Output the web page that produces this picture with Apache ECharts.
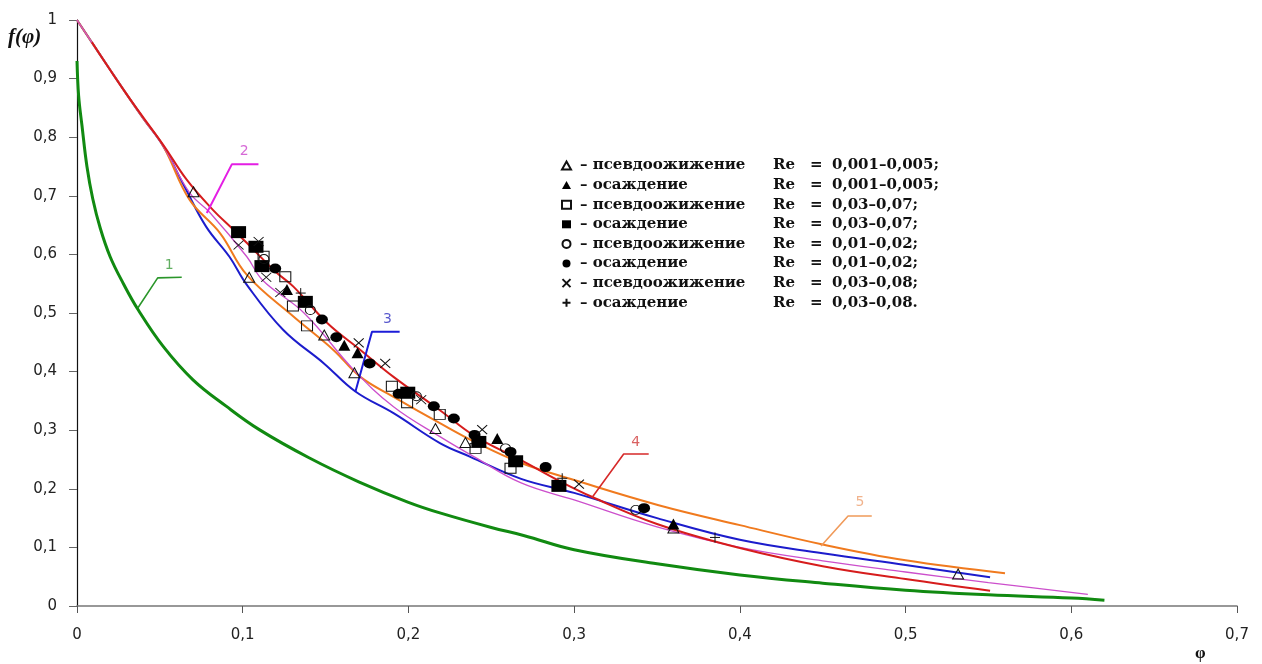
<!DOCTYPE html>
<html>
<head>
<meta charset="utf-8">
<script src="https://cdn.jsdelivr.net/npm/echarts@6/dist/echarts.min.js"></script>
<style>
html,body{margin:0;padding:0;background:#fff;}
#chart{width:1262px;height:664px;}
</style>
</head>
<body>
<div id="chart"></div>
<script>
// ---------- curves (φ, f(φ)) ----------
const phi1 = [0, 0.001, 0.003, 0.006, 0.0095, 0.014, 0.02, 0.028, 0.037, 0.052, 0.07, 0.09, 0.11, 0.14, 0.17, 0.2, 0.22, 0.25, 0.27, 0.3, 0.35, 0.4, 0.45, 0.5, 0.55, 0.6, 0.62];
const f1   = [0.93, 0.87, 0.82, 0.75, 0.695, 0.645, 0.596, 0.55, 0.505, 0.443, 0.386, 0.341, 0.301, 0.253, 0.212, 0.177, 0.158, 0.134, 0.12, 0.096, 0.072, 0.053, 0.039, 0.027, 0.019, 0.0137, 0.01];

const phi2 = [0, 0.02, 0.04, 0.052, 0.068, 0.08, 0.1025, 0.112, 0.137, 0.167, 0.191, 0.219, 0.24, 0.268, 0.3, 0.35, 0.4, 0.45, 0.5, 0.55, 0.61];
const f2   = [1.0, 0.915, 0.832, 0.785, 0.705, 0.672, 0.596, 0.556, 0.5, 0.403, 0.34, 0.289, 0.254, 0.21, 0.181, 0.135, 0.1, 0.077, 0.058, 0.04, 0.02];

const phi3 = [0, 0.02, 0.04, 0.052, 0.065, 0.078, 0.092, 0.1025, 0.1245, 0.149, 0.168, 0.191, 0.219, 0.237, 0.268, 0.3, 0.35, 0.4, 0.45, 0.5, 0.551];
const f3   = [1.0, 0.915, 0.832, 0.785, 0.715, 0.647, 0.596, 0.548, 0.471, 0.414, 0.366, 0.329, 0.278, 0.255, 0.217, 0.193, 0.15, 0.113, 0.09, 0.07, 0.049];

const phi4 = [0.009, 0.03, 0.052, 0.0663, 0.082, 0.0944, 0.1027, 0.12, 0.1306, 0.151, 0.171, 0.191, 0.219, 0.24, 0.268, 0.29, 0.311, 0.35, 0.4, 0.45, 0.5, 0.551];
const f4   = [0.962, 0.873, 0.787, 0.727, 0.676, 0.642, 0.619, 0.57, 0.545, 0.483, 0.437, 0.391, 0.334, 0.29, 0.249, 0.215, 0.186, 0.14, 0.099, 0.068, 0.046, 0.026];

const phi5 = [0, 0.02, 0.04, 0.052, 0.068, 0.0864, 0.1025, 0.1306, 0.1547, 0.171, 0.191, 0.219, 0.24, 0.268, 0.3, 0.351, 0.4, 0.45, 0.5, 0.56];
const f5   = [1.0, 0.915, 0.832, 0.785, 0.693, 0.636, 0.565, 0.494, 0.437, 0.391, 0.357, 0.312, 0.28, 0.244, 0.215, 0.172, 0.138, 0.105, 0.078, 0.056];

// ---------- experimental points ----------
const triOpenX  = [0.0703, 0.1039, 0.1492, 0.1674, 0.2163, 0.2344, 0.3599, 0.5317];
const triOpenY  = [0.707, 0.561, 0.4625, 0.398, 0.303, 0.279, 0.133, 0.0546];
const triFillX  = [0.1267, 0.1613, 0.1693, 0.2536, 0.3599];
const triFillY  = [0.54, 0.445, 0.432, 0.286, 0.14];
const sqOpenX   = [0.1126, 0.1257, 0.1303, 0.1388, 0.19, 0.1992, 0.2189, 0.2405, 0.2616];
const sqOpenY   = [0.597, 0.562, 0.512, 0.478, 0.375, 0.347, 0.327, 0.269, 0.235];
const sqFillX   = [0.0975, 0.108, 0.1116, 0.1378, 0.1996, 0.2425, 0.2647, 0.2908];
const sqFillY   = [0.638, 0.613, 0.58, 0.519, 0.364, 0.28, 0.247, 0.205];
const cirOpenX  = [0.1128, 0.1408, 0.2048, 0.2586, 0.3372];
const cirOpenY  = [0.592, 0.505, 0.358, 0.269, 0.164];
const cirFillX  = [0.1196, 0.1478, 0.1565, 0.1766, 0.1941, 0.2153, 0.2274, 0.2399, 0.2616, 0.2828, 0.3422];
const cirFillY  = [0.576, 0.489, 0.4585, 0.414, 0.362, 0.341, 0.32, 0.292, 0.263, 0.237, 0.167];
const crossX    = [0.0975, 0.1096, 0.1142, 0.1227, 0.17, 0.186, 0.2077, 0.2445, 0.3029];
const crossY    = [0.616, 0.622, 0.561, 0.535, 0.449, 0.414, 0.352, 0.301, 0.208];
const plusX     = [0.135, 0.2928, 0.385];
const plusY     = [0.534, 0.218, 0.117];

// ---------- legend texts ----------
const legendModes  = ['псевдоожижение', 'осаждение', 'псевдоожижение', 'осаждение', 'псевдоожижение', 'осаждение', 'псевдоожижение', 'осаждение'];
const legendRanges = ['0,001–0,005;', '0,001–0,005;', '0,03–0,07;', '0,03–0,07;', '0,01–0,02;', '0,01–0,02;', '0,03–0,08;', '0,03–0,08.'];

// ---------- curve labels / leaders ----------
const curveNames = ['1', '2', '3', '4', '5'];
const leader1 = [[0.0367, 0.5085], [0.0487, 0.560], [0.0632, 0.561]];
const leader2 = [[0.0783, 0.6706], [0.0935, 0.754], [0.1095, 0.754]];
const leader3 = [[0.168, 0.3657], [0.178, 0.468], [0.1947, 0.468]];
const leader4 = [[0.3106, 0.1843], [0.3299, 0.2594], [0.345, 0.2594]];
const leader5 = [[0.449, 0.1024], [0.4653, 0.1536], [0.4796, 0.1536]];
const labelPos = [[0.0556, 0.582], [0.1009, 0.775], [0.1873, 0.49], [0.3372, 0.28], [0.4725, 0.1775]];

const zip = (a, b) => a.map((v, i) => [v, b[i]]);
const fmt = v => (v === 0 ? '0' : v === 1 ? '1' : (+v.toFixed(1)).toString().replace('.', ','));

const curveColors  = ['#118a11', '#cc4fcc', '#1c1ccc', '#d61c1c', '#f07a1e'];
const curveWidths  = [3, 1.3, 2, 2, 2];
const leaderColors = ['#2a962a', '#e41ee4', '#1c1cd8', '#d62a2a', '#f09a5a'];
const labelColors  = ['#3a9a3a', '#cc44cc', '#3030c0', '#d03a3a', '#eea070'];

const series = [];
// draw order: green, blue, orange, magenta, red
const curves = [[phi1, f1, 0], [phi3, f3, 2], [phi5, f5, 4], [phi2, f2, 1], [phi4, f4, 3]];
curves.forEach((c, k) => {
  const i = c[2];
  series.push({
    type: 'line', name: 'curve' + curveNames[i], data: zip(c[0], c[1]),
    showSymbol: false, symbol: 'none', smooth: 0.4,
    lineStyle: { color: curveColors[i], width: curveWidths[i] }, z: 2 + k, silent: true
  });
});
[leader1, leader2, leader3, leader4, leader5].forEach((d, i) => {
  series.push({
    type: 'line', name: 'leader' + curveNames[i], data: d, symbol: 'none', silent: true,
    lineStyle: { color: leaderColors[i], width: i === 1 || i === 2 ? 2 : 1.6 }, z: 8
  });
});
series.push({
  type: 'scatter', name: 'labels', silent: true, symbol: 'circle', symbolSize: 1,
  itemStyle: { color: 'rgba(0,0,0,0)' },
  data: labelPos.map((p, i) => ({
    value: p, name: curveNames[i],
    label: { show: true, position: 'inside', formatter: curveNames[i], color: labelColors[i],
             fontFamily: 'DejaVu Sans', fontSize: 14 }
  })), z: 9
});

const CROSS = 'path://M0,0L10,10M10,0L0,10';
const PLUS  = 'path://M5,0L5,10M0,5L10,5';
const pts = [
  [triOpenX, triOpenY, 'triangle', [11, 10], false],
  [triFillX, triFillY, 'triangle', [12, 11], true],
  [sqOpenX, sqOpenY, 'rect', [11, 10], false],
  [sqFillX, sqFillY, 'rect', [15, 12], true],
  [cirOpenX, cirOpenY, 'circle', [10, 9], false],
  [cirFillX, cirFillY, 'circle', [12, 10], true],
  [crossX, crossY, CROSS, [10, 9], false],
  [plusX, plusY, PLUS, [10, 10], false]
];
const legendNames = [];
pts.forEach((p, i) => {
  const name = legendModes[i] + '|' + legendRanges[i];
  legendNames.push(name);
  series.push({
    type: 'scatter', name: name, data: zip(p[0], p[1]), symbol: p[2], symbolSize: p[3],
    itemStyle: p[4] ? { color: '#000', borderColor: '#000', borderWidth: 0, opacity: 1 }
                    : { color: 'rgba(255,255,255,0)', borderColor: '#111', borderWidth: 1, opacity: 1 },
    z: 20, silent: true
  });
});

const richBase = { fontFamily: 'DejaVu Serif', fontWeight: 'bold', fontSize: 15, lineHeight: 16, color: '#111' };
const chart = echarts.init(document.getElementById('chart'));
chart.setOption({
  animation: false,
  backgroundColor: '#fff',
  grid: { left: 77, right: 25, top: 20, bottom: 58, containLabel: false },
  xAxis: {
    type: 'value', min: 0, max: 0.7, interval: 0.1,
    axisLine: { show: true, onZero: false, lineStyle: { color: '#777', width: 1.5 } },
    axisTick: { show: true, length: 7, lineStyle: { color: '#555' } },
    splitLine: { show: false },
    axisLabel: { formatter: fmt, margin: 22, color: '#222', fontFamily: 'DejaVu Sans', fontSize: 15 }
  },
  yAxis: {
    type: 'value', min: 0, max: 1, interval: 0.1,
    axisLine: { show: true, onZero: false, lineStyle: { color: '#111', width: 1.2 } },
    axisTick: { show: true, length: 8, lineStyle: { color: '#666' } },
    splitLine: { show: false },
    axisLabel: { formatter: fmt, margin: 20, color: '#222', fontFamily: 'DejaVu Sans', fontSize: 15 }
  },
  legend: {
    data: legendNames, orient: 'vertical', left: 556, top: 153,
    itemWidth: 9, itemHeight: 8, itemGap: 4.6, selectedMode: false,
    formatter: n => { const s = n.split('|'); return '{d|– ' + s[0] + '}{r|Re}{q|=}{v|' + s[1] + '}'; },
    textStyle: {
      padding: [0, 0, 0, 4],
      rich: {
        d: Object.assign({ width: 193 }, richBase),
        r: Object.assign({ width: 37 }, richBase),
        q: Object.assign({ width: 22 }, richBase),
        v: Object.assign({}, richBase)
      }
    }
  },
  graphic: [
    { type: 'text', left: 8, top: 27, style: { text: 'f(φ)', font: 'italic bold 21px "Liberation Serif"', fill: '#111' } },
    { type: 'text', left: 1195, top: 645, style: { text: 'φ', font: 'bold 17px "Liberation Serif"', fill: '#111' } }
  ],
  series: series
});
</script>
</body>
</html>
